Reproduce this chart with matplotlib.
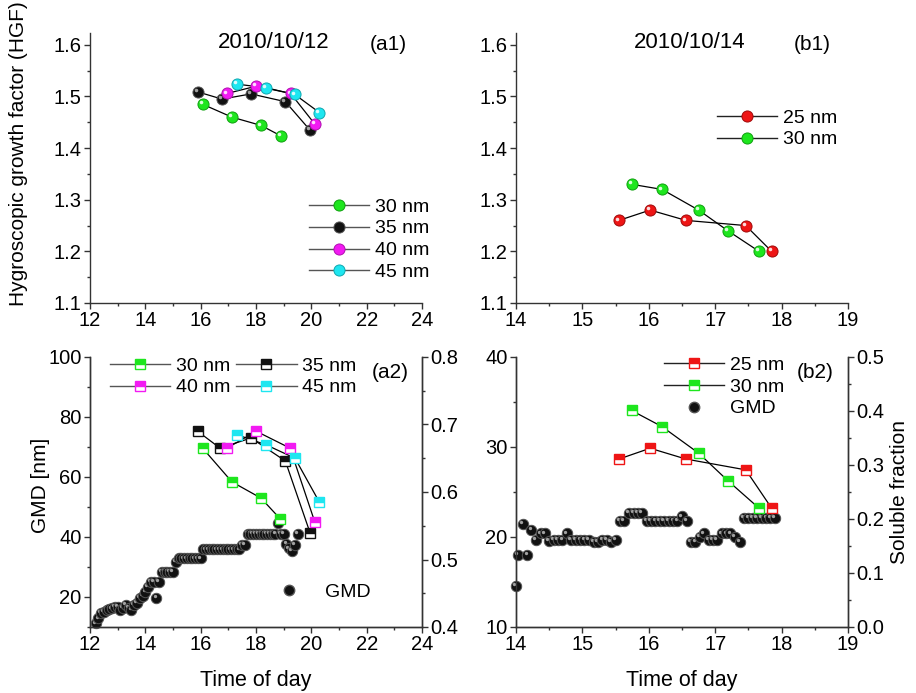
import matplotlib
matplotlib.use("Agg")
import matplotlib.pyplot as plt
import matplotlib.transforms as mtransforms
from matplotlib.lines import Line2D
from matplotlib.ticker import MultipleLocator, FormatStrFormatter

plt.rcParams['font.family'] = ['Liberation Sans', 'DejaVu Sans']
plt.rcParams['font.size'] = 14

# ---------------- data ----------------
# (a1) HGF 2010/10/12
a1_t30 = [16.07, 17.13, 18.18, 18.89]
a1_h30 = [1.485, 1.460, 1.444, 1.424]
a1_t35 = [15.89, 16.77, 17.82, 19.06, 19.95]
a1_h35 = [1.509, 1.495, 1.505, 1.490, 1.435]
a1_t40 = [16.96, 18.01, 19.25, 20.12]
a1_h40 = [1.506, 1.520, 1.506, 1.447]
a1_t45 = [17.30, 18.36, 19.40, 20.29]
a1_h45 = [1.524, 1.517, 1.504, 1.469]

# (b1) HGF 2010/10/14
b1_t25 = [15.55, 16.02, 16.56, 17.46, 17.85]
b1_h25 = [1.26, 1.28, 1.26, 1.25, 1.20]
b1_t30 = [15.74, 16.20, 16.75, 17.19, 17.66]
b1_h30 = [1.33, 1.32, 1.28, 1.24, 1.20]

# (a2) soluble fraction 2010/10/12
a2_t30 = [16.07, 17.13, 18.18, 18.88]
a2_s30 = [0.665, 0.615, 0.591, 0.560]
a2_t35 = [15.89, 16.70, 17.82, 19.06, 19.95]
a2_s35 = [0.690, 0.665, 0.680, 0.646, 0.540]
a2_t40 = [16.95, 18.01, 19.23, 20.13]
a2_s40 = [0.665, 0.690, 0.665, 0.555]
a2_t45 = [17.30, 18.36, 19.41, 20.29]
a2_s45 = [0.685, 0.670, 0.650, 0.585]

# (a2) GMD 2010/10/12
gmd_a_t = [12.2, 12.3, 12.4, 12.5, 12.6, 12.7, 12.8, 12.9, 13.0, 13.1,
           13.2, 13.3, 13.4, 13.5, 13.6, 13.7, 13.8, 13.9, 14.0, 14.1,
           14.2, 14.3, 14.4, 14.5, 14.6, 14.7, 14.8, 14.9, 15.0, 15.1,
           15.2, 15.3, 15.4, 15.5, 15.6, 15.7, 15.8, 15.9, 16.0, 16.1,
           16.2, 16.3, 16.4, 16.5, 16.6, 16.7, 16.8, 16.9, 17.0, 17.1,
           17.2, 17.3, 17.4, 17.5, 17.6, 17.7, 17.8, 17.9, 18.0, 18.1,
           18.2, 18.3, 18.4, 18.5, 18.6, 18.7, 18.8, 18.9, 19.0, 19.1,
           19.2, 19.3, 19.4, 19.5]
gmd_a_v = [11.2, 12.9, 14.6, 15.0, 15.7, 16.0, 16.2, 16.8, 16.8, 15.7,
           16.5, 17.3, 16.5, 15.7, 17.3, 18.0, 19.6, 20.5, 21.8, 23.4,
           25.1, 25.1, 19.6, 25.1, 28.4, 28.4, 28.4, 28.4, 28.4, 31.8,
           32.9, 32.9, 32.9, 32.9, 32.9, 32.9, 32.9, 32.9, 32.9, 35.9,
           35.9, 35.9, 35.9, 35.9, 35.9, 35.9, 35.9, 35.9, 35.9, 35.9,
           35.9, 35.9, 35.9, 37.3, 37.3, 41.0, 41.0, 41.0, 41.0, 41.0,
           41.0, 41.0, 41.0, 41.0, 41.0, 41.0, 44.6, 41.0, 41.0, 37.7,
           36.2, 35.4, 37.3, 41.0]

# (b2) soluble fraction 2010/10/14
b2_t25 = [15.55, 16.02, 16.56, 17.46, 17.85]
b2_s25 = [0.311, 0.331, 0.311, 0.291, 0.220]
b2_t30 = [15.74, 16.20, 16.75, 17.19, 17.66]
b2_s30 = [0.401, 0.371, 0.322, 0.271, 0.220]

# (b2) GMD 2010/10/14
gmd_b_t = [14.00, 14.03, 14.10, 14.17, 14.23, 14.30, 14.37, 14.43, 14.50, 14.57,
           14.63, 14.70, 14.77, 14.83, 14.90, 14.97, 15.03, 15.10, 15.17, 15.23,
           15.30, 15.37, 15.43, 15.50, 15.57, 15.63, 15.70, 15.77, 15.83, 15.90,
           15.97, 16.03, 16.10, 16.17, 16.23, 16.30, 16.37, 16.43, 16.50, 16.57,
           16.63, 16.70, 16.77, 16.83, 16.90, 16.97, 17.03, 17.10, 17.17, 17.23,
           17.30, 17.37, 17.43, 17.50, 17.57, 17.63, 17.70, 17.77, 17.83, 17.90]
gmd_b_v = [14.6, 18.0, 21.5, 18.0, 20.8, 19.7, 20.4, 20.4, 19.6, 19.7,
           19.7, 19.7, 20.4, 19.7, 19.7, 19.7, 19.7, 19.7, 19.5, 19.5,
           19.7, 19.7, 19.5, 19.7, 21.8, 21.8, 22.7, 22.7, 22.7, 22.7,
           21.8, 21.8, 21.8, 21.8, 21.8, 21.8, 21.8, 21.8, 22.3, 21.8,
           19.5, 19.5, 20.0, 20.4, 19.7, 19.7, 19.7, 20.4, 20.4, 20.4,
           20.0, 19.5, 22.1, 22.1, 22.1, 22.1, 22.1, 22.1, 22.1, 22.1]

C_GREEN = '#1ee61e'
C_BLACK = '#111111'
C_MAG = '#f21af2'
C_CYAN = '#1ee6f0'
C_RED = '#ee1515'

EDGE = {C_GREEN: '#10a010', C_BLACK: '#555555', C_MAG: '#b010b0',
        C_CYAN: '#10a8b0', C_RED: '#a00a0a'}

TICK_FS = 14.5
LAB_FS = 15
LEG_FS = 14

# ---------------- figure ----------------
W, H = 916, 693
fig = plt.figure(figsize=(W / 100, H / 100), dpi=100)


def rect(x0, y0, x1, y1):
    return [x0 / W, 1 - y1 / H, (x1 - x0) / W, (y1 - y0) / H]


ax_a1 = fig.add_axes(rect(90, 33, 422, 303))
ax_b1 = fig.add_axes(rect(516, 33, 848, 303))
ax_a2 = fig.add_axes(rect(90, 357, 422, 627))
ax_b2 = fig.add_axes(rect(516, 357, 848, 627))
ax_a2r = ax_a2.twinx()
ax_b2r = ax_b2.twinx()

SPC = '#333333'


def style(ax, spines):
    for s in ['left', 'right', 'top', 'bottom']:
        ax.spines[s].set_visible(s in spines)
        ax.spines[s].set_color(SPC)
        ax.spines[s].set_linewidth(1.0)
    ax.tick_params(which='major', direction='out', length=4, width=1.0,
                   color=SPC, labelsize=TICK_FS, pad=2)
    ax.tick_params(which='minor', direction='out', length=2.5, width=1.0,
                   color=SPC)


def spheres(ax, x, y, color, ms, zorder=5, clip=True):
    off = mtransforms.ScaledTranslation(-ms * 0.17 / 72, ms * 0.17 / 72,
                                        fig.dpi_scale_trans)
    hl = '#bbbbbb' if color == C_BLACK else 'white'
    for xi, yi in zip(x, y):
        ax.plot([xi], [yi], ls='none', marker='o', ms=ms, mfc=color,
                mec=EDGE[color], mew=0.7, zorder=zorder, clip_on=clip)
        ax.plot([xi], [yi], ls='none', marker='o', ms=ms * 0.32, mfc=hl,
                mec='none', alpha=0.85, zorder=zorder,
                transform=ax.transData + off, clip_on=clip)


def line(ax, x, y):
    ax.plot(x, y, color='black', lw=0.9, zorder=3)


def squares(ax, x, y, color, ms=7.5):
    ax.plot(x, y, color='black', lw=0.9, zorder=3)
    ax.plot(x, y, ls='none', marker='s', ms=ms, fillstyle='top', mfc=color,
            mfcalt='white', mec=color, mew=1.0, zorder=5)


def sph_handle(color, lc='#555555'):
    return Line2D([], [], color=lc, lw=1.0, marker='o', ms=8, mfc=color,
                  mec=EDGE[color], mew=0.7)


def sq_handle(color, lc='#555555'):
    return Line2D([], [], color=lc, lw=1.0, marker='s', ms=7.5,
                  fillstyle='top', mfc=color, mfcalt='white', mec=color,
                  mew=1.0)


def gmd_handle():
    return Line2D([], [], ls='none', marker='o', ms=7.5, mfc=C_BLACK,
                  mec=EDGE[C_BLACK])


LEGKW = dict(frameon=False, fontsize=LEG_FS, borderpad=0, borderaxespad=0,
             handlelength=3.1, handletextpad=0.3, labelspacing=0.22,
             loc='upper left')

# ---------------- (a1) ----------------
style(ax_a1, ['left', 'bottom'])
series_a1 = [(a1_t30, a1_h30, C_GREEN), (a1_t35, a1_h35, C_BLACK),
             (a1_t40, a1_h40, C_MAG), (a1_t45, a1_h45, C_CYAN)]
for t, h, c in series_a1:
    line(ax_a1, t, h)
for t, h, c in series_a1:
    spheres(ax_a1, t, h, c, 8)
ax_a1.set_xlim(12, 24)
ax_a1.set_ylim(1.1, 1.623)
ax_a1.xaxis.set_major_locator(MultipleLocator(2))
ax_a1.xaxis.set_minor_locator(MultipleLocator(1))
ax_a1.yaxis.set_major_locator(MultipleLocator(0.1))
ax_a1.yaxis.set_minor_locator(MultipleLocator(0.05))
ax_a1.yaxis.set_major_formatter(FormatStrFormatter('%.1f'))
ax_a1.set_ylabel('Hygroscopic growth factor (HGF)', fontsize=LAB_FS)
ax_a1.yaxis.set_label_coords(-62 / 332, 0.555)
ax_a1.legend([sph_handle(c) for c in [C_GREEN, C_BLACK, C_MAG, C_CYAN]],
             ['30 nm', '35 nm', '40 nm', '45 nm'],
             bbox_to_anchor=(309 / W, 1 - 198 / H),
             bbox_transform=fig.transFigure, **LEGKW)

# ---------------- (b1) ----------------
style(ax_b1, ['left', 'bottom'])
line(ax_b1, b1_t25, b1_h25)
line(ax_b1, b1_t30, b1_h30)
spheres(ax_b1, b1_t25, b1_h25, C_RED, 8)
spheres(ax_b1, b1_t30, b1_h30, C_GREEN, 8)
ax_b1.set_xlim(14, 19)
ax_b1.set_ylim(1.1, 1.623)
ax_b1.xaxis.set_major_locator(MultipleLocator(1))
ax_b1.xaxis.set_minor_locator(MultipleLocator(0.5))
ax_b1.yaxis.set_major_locator(MultipleLocator(0.1))
ax_b1.yaxis.set_minor_locator(MultipleLocator(0.05))
ax_b1.yaxis.set_major_formatter(FormatStrFormatter('%.1f'))
ax_b1.legend([sph_handle(C_RED, '#222222'), sph_handle(C_GREEN, '#222222')],
             ['25 nm', '30 nm'],
             bbox_to_anchor=(717 / W, 1 - 109 / H),
             bbox_transform=fig.transFigure, **LEGKW)

# ---------------- (a2) ----------------
style(ax_a2, ['left', 'bottom', 'right'])
style(ax_a2r, ['left', 'bottom', 'right'])
spheres(ax_a2, gmd_a_t, gmd_a_v, C_BLACK, 7.5, clip=False)
for t, s, c in [(a2_t30, a2_s30, C_GREEN), (a2_t35, a2_s35, C_BLACK),
                (a2_t40, a2_s40, C_MAG), (a2_t45, a2_s45, C_CYAN)]:
    squares(ax_a2r, t, s, c)
ax_a2.set_xlim(12, 24)
ax_a2.set_ylim(10, 100)
ax_a2r.set_ylim(0.4, 0.8)
ax_a2.xaxis.set_major_locator(MultipleLocator(2))
ax_a2.xaxis.set_minor_locator(MultipleLocator(1))
ax_a2.yaxis.set_major_locator(MultipleLocator(20))
ax_a2.yaxis.set_minor_locator(MultipleLocator(10))
ax_a2r.yaxis.set_major_locator(MultipleLocator(0.1))
ax_a2r.yaxis.set_minor_locator(MultipleLocator(0.05))
ax_a2r.yaxis.set_major_formatter(FormatStrFormatter('%.1f'))
ax_a2.set_ylabel('GMD [nm]', fontsize=LAB_FS)
ax_a2.yaxis.set_label_coords(-40 / 332, 0.526)
ax_a2.set_xlabel('Time of day', fontsize=15.5, labelpad=11)
# legend order arranged so rows read 30, 35 / 40, 45
leg_a2 = ax_a2r.legend([sq_handle(c) for c in [C_GREEN, C_MAG, C_BLACK, C_CYAN]],
                       ['30 nm', '40 nm', '35 nm', '45 nm'], ncol=2,
                       columnspacing=0.3,
                       bbox_to_anchor=(110 / W, 1 - 357 / H),
                       bbox_transform=fig.transFigure, **LEGKW)
ax_a2r.add_artist(leg_a2)
ax_a2r.legend([gmd_handle()], ['GMD'],
              bbox_to_anchor=(259 / W, 1 - 583 / H),
              bbox_transform=fig.transFigure, **LEGKW)

# ---------------- (b2) ----------------
style(ax_b2, ['left', 'bottom', 'right'])
style(ax_b2r, ['left', 'bottom', 'right'])
spheres(ax_b2, gmd_b_t, gmd_b_v, C_BLACK, 7.5, clip=False)
squares(ax_b2r, b2_t25, b2_s25, C_RED)
squares(ax_b2r, b2_t30, b2_s30, C_GREEN)
ax_b2.set_xlim(14, 19)
ax_b2.set_ylim(10, 40)
ax_b2r.set_ylim(0.0, 0.5)
ax_b2.xaxis.set_major_locator(MultipleLocator(1))
ax_b2.xaxis.set_minor_locator(MultipleLocator(0.5))
ax_b2.yaxis.set_major_locator(MultipleLocator(10))
ax_b2.yaxis.set_minor_locator(MultipleLocator(5))
ax_b2r.yaxis.set_major_locator(MultipleLocator(0.1))
ax_b2r.yaxis.set_minor_locator(MultipleLocator(0.05))
ax_b2r.yaxis.set_major_formatter(FormatStrFormatter('%.1f'))
ax_b2r.set_ylabel('Soluble fraction', fontsize=LAB_FS, labelpad=4)
ax_b2.set_xlabel('Time of day', fontsize=15.5, labelpad=11)
ax_b2r.legend([sq_handle(C_RED, '#222222'), sq_handle(C_GREEN, '#222222'),
               gmd_handle()],
              ['25 nm', '30 nm', 'GMD'],
              bbox_to_anchor=(664 / W, 1 - 356 / H),
              bbox_transform=fig.transFigure, **LEGKW)


# ---------------- annotations ----------------
def ftext(x, y, s, fs=15):
    fig.text(x / W, 1 - y / H, s, ha='center', va='center', fontsize=fs)


ftext(274, 43, '2010/10/12', 16)
ftext(388, 45, '(a1)')
ftext(690, 43, '2010/10/14', 16)
ftext(812, 44, '(b1)')
ftext(390, 372, '(a2)')
ftext(815, 373, '(b2)')

fig.savefig('out.png', dpi=100)
